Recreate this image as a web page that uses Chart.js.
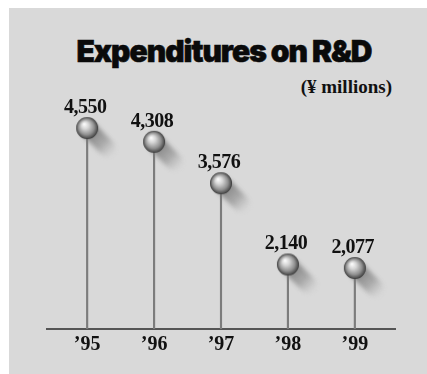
<!DOCTYPE html>
<html><head><meta charset="utf-8">
<script src="https://cdn.jsdelivr.net/npm/chart.js@4/dist/chart.umd.min.js"></script>
<style>
html,body{margin:0;padding:0;background:#fff;width:427px;height:374px;overflow:hidden;}
#panel{position:absolute;left:9px;top:8px;width:418px;height:366px;background:#d9d9d9;}
#title{position:absolute;left:0;width:448px;top:33px;text-align:center;font-family:Inter,"Liberation Sans",sans-serif;font-weight:900;font-size:30px;letter-spacing:-1px;color:#0a0a0a;line-height:normal;white-space:nowrap;-webkit-text-stroke:0.6px #0a0a0a;}
#sub{position:absolute;right:35px;top:76px;font-family:"Liberation Serif",serif;font-weight:bold;font-size:19px;color:#111;line-height:normal;white-space:nowrap;}
#wrap{position:absolute;left:0;top:0;width:427px;height:374px;}
</style></head>
<body>
<div id="panel"></div>
<div id="title">Expenditures on R&amp;D</div>
<div id="sub">(¥ millions)</div>
<div id="wrap"><canvas id="c" width="427" height="374"></canvas></div>
<script>
const years = ["\u201995","\u201996","\u201997","\u201998","\u201999"];
const values = [4550, 4308, 3576, 2140, 2077];
const yMin = 1000, yMax = 6000;

// sphere with trailing shadow, used as the point style
function makeBall(){
  const s = 80, c = s/2, r = 11;
  const cv = document.createElement('canvas');
  cv.width = s; cv.height = s;
  const g = cv.getContext('2d');
  g.save();
  g.filter = 'blur(2px)';
  const lg = g.createLinearGradient(c+2, c+2, c+25, c+25);
  lg.addColorStop(0, 'rgba(110,110,110,0.85)');
  lg.addColorStop(0.6, 'rgba(145,145,145,0.65)');
  lg.addColorStop(1, 'rgba(200,200,200,0.3)');
  g.strokeStyle = lg; g.lineWidth = 17; g.lineCap = 'round';
  g.beginPath(); g.moveTo(c+3, c+3); g.lineTo(c+20, c+20); g.stroke();
  g.restore();
  const rg = g.createRadialGradient(c-3, c-4, 0.5, c, c, r);
  rg.addColorStop(0, '#fafafa');
  rg.addColorStop(0.3, '#d6d6d6');
  rg.addColorStop(0.7, '#909090');
  rg.addColorStop(0.92, '#555');
  rg.addColorStop(1, '#333');
  g.fillStyle = rg;
  g.beginPath(); g.arc(c, c, r, 0, Math.PI*2); g.fill();
  return cv;
}
const ball = makeBall();

const labelPlugin = {
  id: 'valueLabels',
  afterDatasetsDraw(chart){
    const meta = chart.getDatasetMeta(1);
    const ctx = chart.ctx;
    ctx.save();
    ctx.font = 'bold 20px "Liberation Serif", serif';
    if ('letterSpacing' in ctx) ctx.letterSpacing = '-0.5px';
    ctx.fillStyle = '#111';
    ctx.textAlign = 'center';
    ctx.textBaseline = 'alphabetic';
    meta.data.forEach((pt, i) => {
      ctx.fillText(values[i].toLocaleString('en-US'), pt.x - 2, pt.y - 15);
    });
    ctx.restore();
  }
};

new Chart(document.getElementById('c'), {
  type: 'scatter',
  data: {
    datasets: [
      {
        type: 'bar',
        data: values.map((v, i) => ({x: i, y: v})),
        backgroundColor: '#7c7c7c',
        barThickness: 1.5,
        order: 2
      },
      {
        type: 'scatter',
        data: values.map((v, i) => ({x: i, y: v})),
        pointStyle: ball,
        pointRadius: 11,
        clip: false,
        order: 1
      }
    ]
  },
  options: {
    responsive: false,
    animation: false,
    events: [],
    layout: { padding: { left: 47, right: 32, top: 46, bottom: 13 } },
    plugins: { legend: { display: false }, tooltip: { enabled: false } },
    scales: {
      x: {
        type: 'linear', min: -0.6, max: 4.6, offset: false,
        grid: { display: false, drawTicks: false, offset: false },
        border: { display: true, color: '#555', width: 2 },
        ticks: {
          stepSize: 1, includeBounds: false, autoSkip: false, maxRotation: 0,
          padding: 4, color: '#111',
          font: { family: '"Liberation Serif", serif', weight: 'bold', size: 20 },
          callback: v => (Number.isInteger(v) && years[v] !== undefined) ? years[v] : ''
        }
      },
      y: { display: false, min: yMin, max: yMax }
    }
  },
  plugins: [labelPlugin]
});
</script>
</body></html>
